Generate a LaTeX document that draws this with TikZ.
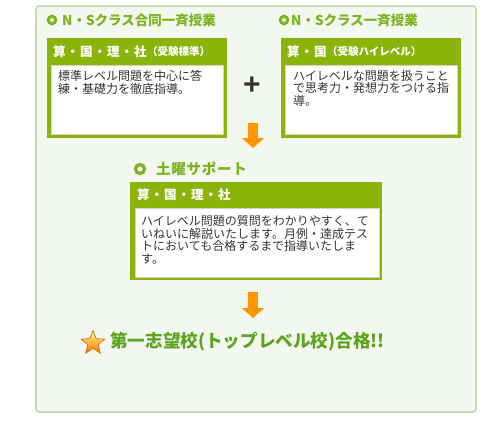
\documentclass[tikz,border=0pt]{standalone}
\usepackage{fontspec}
\setmainfont{Noto Sans CJK JP}
\newfontfamily\plusfont{Liberation Sans}
\usetikzlibrary{shapes.geometric,arrows.meta}
\definecolor{framebd}{HTML}{B9D9A9}
\definecolor{framebg}{HTML}{F2F7F0}
\definecolor{boxgreen}{HTML}{8AB40A}
\definecolor{headgreen}{HTML}{7DB31C}
\definecolor{goalgreen}{HTML}{5EA31E}
\definecolor{arroworange}{HTML}{FF9600}
\definecolor{bodygray}{HTML}{333333}
\begin{document}
\begin{tikzpicture}[x=1bp,y=-1bp,
  greenbox/.style={fill=boxgreen, draw=none, anchor=north west, inner sep=0},
  whitebox/.style={fill=white, draw=black!18, line width=0.8bp, anchor=north west, inner sep=0},
  ring/.style={circle, draw=headgreen, line width=3bp, minimum size=7.5bp, inner sep=0},
  headtext/.style={anchor=west, inner sep=0, text=headgreen, font=\fontsize{13.5bp}{15bp}\selectfont\bfseries},
  bartext/.style={anchor=west, inner sep=0, text=white, font=\fontsize{12.5bp}{14bp}\selectfont\bfseries\addfontfeature{LetterSpace=8}},
  smallbar/.style={anchor=west, inner sep=0, text=white, font=\fontsize{10.5bp}{12bp}\selectfont\bfseries},
  bodytext/.style={anchor=north west, inner sep=0, align=left, text=bodygray, font=\fontsize{12bp}{12.6bp}\selectfont},
  orangearrow/.style={draw=arroworange, line width=10bp, -{Triangle[width=22bp,length=10bp]}},
]
\useasboundingbox (0,0) rectangle (499,426);
\draw[framebd, fill=framebg, line width=1.5bp, rounded corners=3bp] (36,6) rectangle (476,412);

% headings
\node[ring] (r1) at (52,20) {};
\node[headtext] (h1) at (62,20) {N・Sクラス合同一斉授業};
\node[ring] (r2) at (284,20) {};
\node[headtext] (h2) at (291,20) {N・Sクラス一斉授業};
\node[ring, minimum size=9bp, line width=3.2bp] (r3) at (140,169) {};
\node[headtext, font=\fontsize{14.5bp}{16bp}\selectfont\bfseries\addfontfeature{LetterSpace=5}] (h3) at (156,169) {土曜サポート};

% box 1
\node[greenbox, minimum width=180bp, minimum height=100bp] (b1) at (47,38) {};
\node[whitebox, minimum width=172bp, minimum height=69bp] (w1) at (51,65) {};
\node[bartext] (t1) at (53,52) {算・国・理・社};
\node[smallbar] (p1) at (t1.east) {（受験標準）};
\node[bodytext] (x1) at (58,70.5) {標準レベル問題を中心に答\\練・基礎力を徹底指導。};

% plus
\node[text=bodygray, inner sep=0, font=\plusfont\bfseries\fontsize{30bp}{30bp}\selectfont] (plus) at (252,86) {+};

% box 2
\node[greenbox, minimum width=180bp, minimum height=100bp] (b2) at (281,38) {};
\node[whitebox, minimum width=172bp, minimum height=69bp] (w2) at (285,65) {};
\node[bartext] (t2) at (287,52) {算・国};
\node[smallbar] (p2) at (t2.east) {（受験ハイレベル）};
\node[bodytext] (x2) at (293,70) {ハイレベルな問題を扱うこと\\で思考力・発想力をつける指\\導。};

% arrow 1
\coordinate (a1s) at (253,123);
\coordinate (a1e) at (253,148);
\draw[orangearrow] (a1s) -- (a1e);

% box 3
\node[greenbox, minimum width=252bp, minimum height=98bp] (b3) at (130,182) {};
\node[whitebox, minimum width=244bp, minimum height=69bp] (w3) at (135,207.5) {};
\node[bartext] (t3) at (137,195) {算・国・理・社};
\node[bodytext] (x3) at (141,215.5) {ハイレベル問題の質問をわかりやすく、て\\いねいに解説いたします。月例・達成テス\\トにおいても合格するまで指導いたしま\\す。};

% arrow 2
\coordinate (a2s) at (253,292);
\coordinate (a2e) at (253,318);
\draw[orangearrow] (a2s) -- (a2e);

% goal
\node[star, star points=5, star point ratio=2.3, minimum size=25bp, inner sep=0,
      top color=yellow!45!white, bottom color=orange!90!red, draw=orange!80!black, line width=0.6bp] (star) at (93,343) {};
\node[anchor=west, inner sep=0, text=goalgreen, font=\fontsize{17.6bp}{20bp}\selectfont\bfseries] (goal) at (110,342) {第一志望校(トップレベル校)合格!!};
\end{tikzpicture}
\end{document}
